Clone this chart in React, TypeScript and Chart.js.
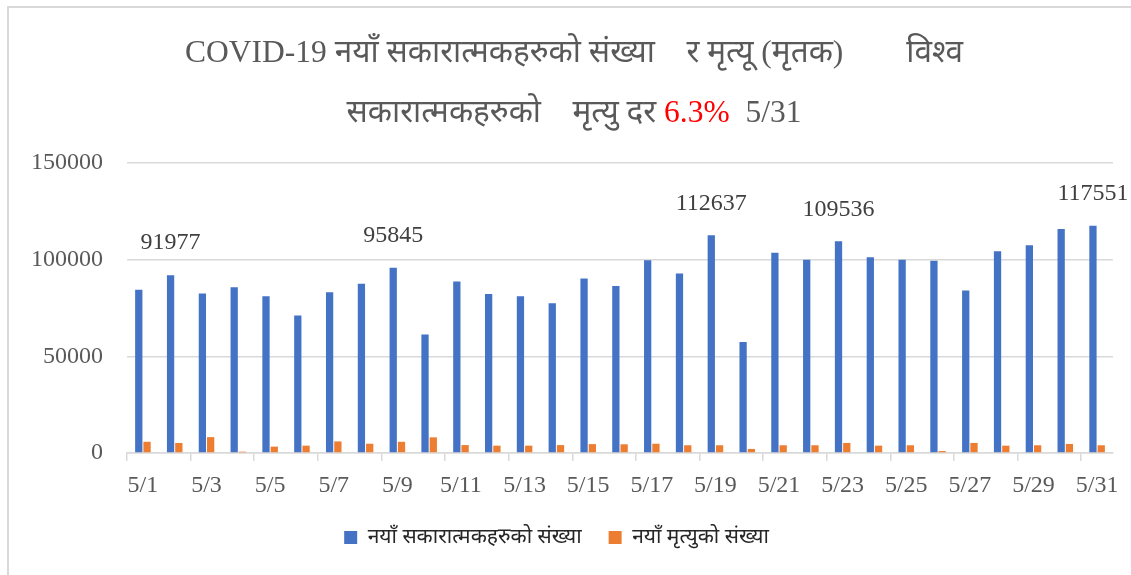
import React, { useEffect, useRef } from "react";
import { Chart, registerables } from "chart.js";

Chart.register(...registerables);

const categories = [
  "5/1", "5/2", "5/3", "5/4", "5/5", "5/6", "5/7", "5/8", "5/9", "5/10",
  "5/11", "5/12", "5/13", "5/14", "5/15", "5/16", "5/17", "5/18", "5/19", "5/20",
  "5/21", "5/22", "5/23", "5/24", "5/25", "5/26", "5/27", "5/28", "5/29", "5/30", "5/31",
];

const positives = [
  84500, 91977, 82500, 85700, 81100, 71100, 83200, 87500, 95845, 61300,
  88700, 82300, 81100, 77500, 90200, 86400, 99700, 92900, 112637, 57400,
  103600, 100000, 109536, 101200, 100000, 99500, 84000, 104300, 107400, 115800, 117551,
];

const deaths = [
  5800, 5200, 8200, 700, 3300, 3800, 6000, 4800, 5800, 8100,
  4100, 3800, 3800, 4100, 4600, 4500, 4800, 4000, 4000, 2100,
  4000, 4000, 5200, 3800, 4000, 1000, 5200, 3800, 4000, 4700, 4000,
];

const labeledIndices = [1, 8, 18, 22, 30];

const seriesNames = ["नयाँ सकारात्मकहरुको संख्या", "नयाँ मृत्युको संख्या"];

const yMin = 0;
const yMax = 150000;
const yStep = 50000;

const GRAY = "#595959";
const RED = "#FF0000";

const titleLine1 = [
  { text: "COVID-19 नयाँ सकारात्मकहरुको संख्या    र मृत्यू (मृतक)        विश्व", color: GRAY },
];
const titleLine2 = [
  { text: "सकारात्मकहरुको    मृत्यु दर ", color: GRAY },
  { text: "6.3%", color: RED },
  { text: "  5/31", color: GRAY },
];

const SERIF = "'Liberation Serif', 'Noto Serif', 'Noto Sans', serif";

export default function App() {
  const canvasRef = useRef<HTMLCanvasElement | null>(null);

  useEffect(() => {
    const canvas = canvasRef.current;
    if (!canvas) return;

    const titlePlugin = {
      id: "customTitle",
      afterDraw(chart: any) {
        const ctx = chart.ctx;
        ctx.save();
        ctx.font = `31.5px ${SERIF}`;
        ctx.textBaseline = "alphabetic";
        ctx.textAlign = "left";
        const drawLine = (segs: { text: string; color: string }[], cx: number, baseline: number) => {
          const widths = segs.map((s) => ctx.measureText(s.text).width);
          const total = widths.reduce((a, b) => a + b, 0);
          let x = cx - total / 2;
          segs.forEach((s, i) => {
            ctx.fillStyle = s.color;
            ctx.fillText(s.text, x, baseline);
            x += widths[i];
          });
        };
        drawLine(titleLine1, 574, 62);
        drawLine(titleLine2, 574, 122);
        ctx.restore();
      },
    };

    const valueLabelPlugin = {
      id: "valueLabels",
      afterDatasetsDraw(chart: any) {
        const ctx = chart.ctx;
        const meta = chart.getDatasetMeta(0);
        ctx.save();
        ctx.font = `24px ${SERIF}`;
        ctx.fillStyle = "#404040";
        ctx.textAlign = "center";
        ctx.textBaseline = "middle";
        labeledIndices.forEach((idx) => {
          const bar = meta.data[idx];
          if (!bar) return;
          ctx.fillText(String(positives[idx]), bar.x, bar.y - 32);
        });
        ctx.restore();
      },
    };

    const chart = new Chart(canvas, {
      type: "bar",
      data: {
        labels: categories,
        datasets: [
          {
            label: seriesNames[0],
            data: positives,
            backgroundColor: "#4472C4",
            borderWidth: 0,
            categoryPercentage: 0.52,
            barPercentage: 0.88,
          },
          {
            label: seriesNames[1],
            data: deaths,
            backgroundColor: "#ED7D31",
            borderWidth: 0,
            categoryPercentage: 0.52,
            barPercentage: 0.88,
          },
        ],
      },
      options: {
        responsive: false,
        animation: false,
        layout: {
          padding: { top: 163, right: 18, bottom: 17, left: 0 },
        },
        plugins: {
          title: { display: false },
          tooltip: { enabled: false },
          legend: {
            display: true,
            position: "bottom",
            labels: {
              boxWidth: 13,
              boxHeight: 13,
              padding: 27,
              color: "#262626",
              font: { family: "'Noto Sans', sans-serif", size: 21 },
            },
          },
        },
        scales: {
          x: {
            offset: true,
            grid: {
              display: true,
              offset: true,
              drawOnChartArea: false,
              drawTicks: true,
              tickLength: 8,
              lineWidth: 1.5,
              color: (ctx: any) => (ctx.index % 2 === 0 ? "#D9D9D9" : "rgba(0,0,0,0)"),
            },
            border: { display: true, color: "#D9D9D9", width: 1.5 },
            ticks: {
              autoSkip: false,
              maxRotation: 0,
              minRotation: 0,
              padding: 10,
              color: GRAY,
              font: { family: SERIF, size: 24 },
              callback: (_v: any, i: number) => (i % 2 === 0 ? categories[i] : ""),
            },
            afterFit: (scale: any) => {
              scale.height = 47;
            },
          },
          y: {
            min: yMin,
            max: yMax,
            grid: {
              color: "#D9D9D9",
              lineWidth: 1.5,
              drawTicks: false,
            },
            border: { display: false },
            ticks: {
              stepSize: yStep,
              padding: 24,
              color: GRAY,
              font: { family: SERIF, size: 24 },
              callback: (v: any) => String(v),
            },
            afterFit: (scale: any) => {
              scale.width = 127;
            },
          },
        },
      },
      plugins: [titlePlugin, valueLabelPlugin],
    });

    return () => {
      chart.destroy();
    };
  }, []);

  return (
    <div>
      <div
        style={{
          position: "fixed",
          left: 7,
          top: 6,
          width: 1124,
          height: 569,
          borderTop: "2px solid #D9D9D9",
          borderLeft: "2px solid #D9D9D9",
          boxSizing: "border-box",
        }}
      />
      <canvas
        ref={canvasRef}
        width={1131}
        height={575}
        style={{ position: "fixed", left: 0, top: 0, width: 1131, height: 575 }}
      />
    </div>
  );
}
